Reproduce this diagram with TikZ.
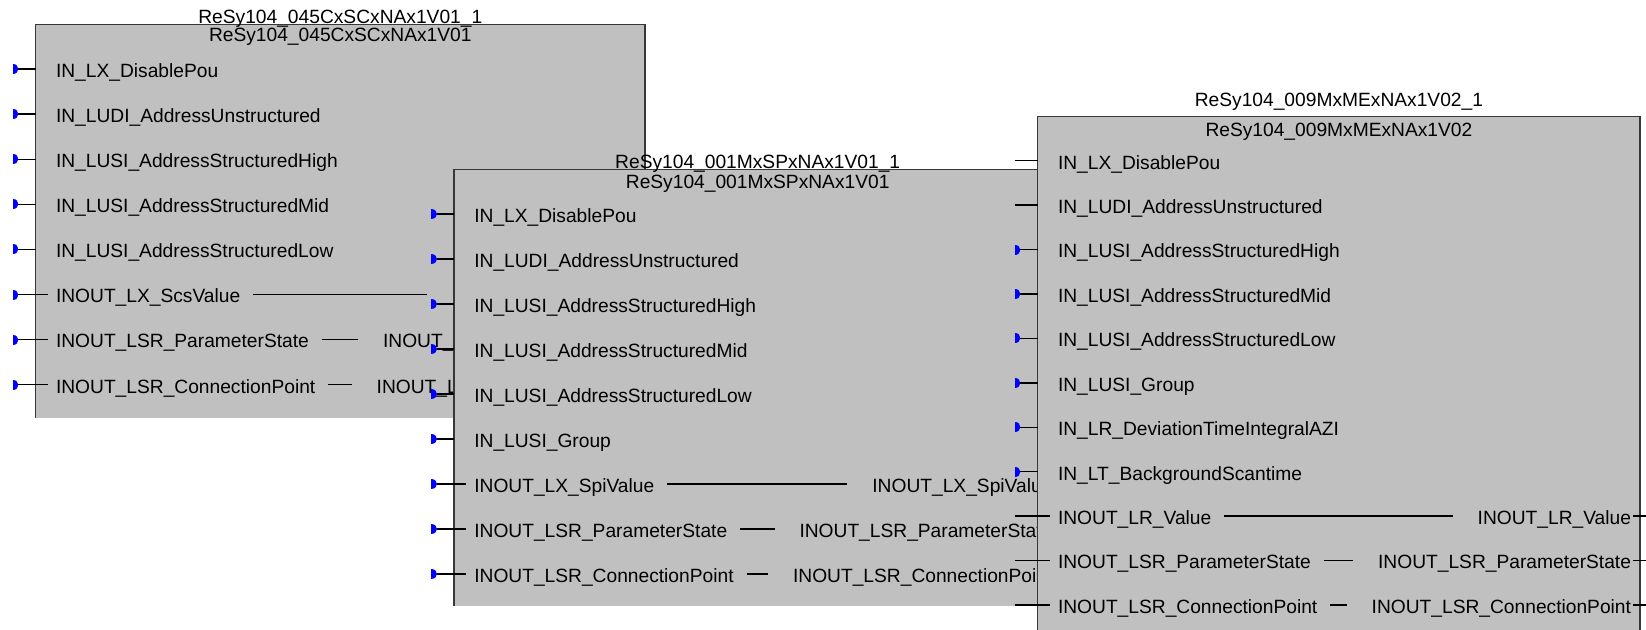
\documentclass[tikz,border=0pt]{standalone}
\usepackage{fontspec}
\setmainfont{Liberation Sans}
\definecolor{fbfill}{RGB}{192,192,192}
\definecolor{fbline}{RGB}{55,55,55}
\definecolor{pinblue}{RGB}{0,0,255}
\newcommand\fbfont{\fontsize{19.2pt}{23pt}\selectfont}

\tikzset{
  fbody/.style={fill=fbfill},
  fbframe/.style={draw=fbline, line width=1.3pt},
  wire/.style={draw=black, line width=1.3pt},
  portlbl/.style={inner sep=0pt, outer sep=0pt, text height=16.6pt, text depth=0pt, font=\fbfont},
  titlelbl/.style={inner sep=0pt, outer sep=0pt, font=\fbfont, anchor=base},
  pinmark/.style={fill=pinblue},
}

% input port: #1 block, #2 index, #3 left edge x, #4 row y, #5 marker (1/0), #6 reach into block, #7 name
\newcommand\fbPort[7]{%
  \ifnum#5=1
    \fill[pinmark] ({#3-23},{#4-5}) .. controls +(7.5,0) and +(7.5,0) .. ({#3-23},{#4+5}) -- cycle;
    \coordinate (#1-p#2) at ({#3-17.5},#4);
  \else
    \coordinate (#1-p#2) at ({#3-23},#4);
  \fi
  \coordinate (#1-e#2) at ({#3+#6},#4);
  \draw[wire] (#1-p#2) -- (#1-e#2);
  \node[portlbl, anchor=west] (#1-l#2) at ({#3+20.3},#4) {#7};
}
% in/out pair: #1 block, #2 index, #3 right edge x, #4 row y, #5 name
\newcommand\fbInOut[5]{%
  \node[portlbl, anchor=east] (#1-r#2) at ({#3-9},#4) {#5};
  \draw[wire] ([xshift=13pt]#1-l#2.east) -- ([xshift=-25pt]#1-r#2.west);
  \coordinate (#1-s#2) at ({#3-7},#4);
  \coordinate (#1-t#2) at ({#3+22},#4);
  \draw[wire] (#1-s#2) -- (#1-t#2);
}

\begin{document}
\begin{tikzpicture}[x=1pt,y=-1pt]
\useasboundingbox (0,0) rectangle (1646,629);
\clip (0,0) rectangle (1646,629);

% ---- block ReSy104_045CxSCxNAx1V01_1
\fill[fbody] (35.7,24.3) rectangle (645,418);
\draw[fbframe] (35.7,418) -- (35.7,24.3) -- (645,24.3) -- (645,418);
\node[titlelbl] (A-inst) at (340.3,23.3) {ReSy104\_045CxSCxNAx1V01\_1};
\node[titlelbl] (A-type) at (340.3,41.7) {ReSy104\_045CxSCxNAx1V01};
\fbPort{A}{0}{35.7}{69}{1}{0}{IN\_LX\_DisablePou}
\fbPort{A}{1}{35.7}{114.1}{1}{0}{IN\_LUDI\_AddressUnstructured}
\fbPort{A}{2}{35.7}{159.2}{1}{0}{IN\_LUSI\_AddressStructuredHigh}
\fbPort{A}{3}{35.7}{204.3}{1}{0}{IN\_LUSI\_AddressStructuredMid}
\fbPort{A}{4}{35.7}{249.4}{1}{0}{IN\_LUSI\_AddressStructuredLow}
\fbPort{A}{5}{35.7}{294.5}{1}{12}{INOUT\_LX\_ScsValue}
\fbPort{A}{6}{35.7}{339.6}{1}{12}{INOUT\_LSR\_ParameterState}
\fbPort{A}{7}{35.7}{384.7}{1}{12}{INOUT\_LSR\_ConnectionPoint}
\fbInOut{A}{5}{645}{294.5}{INOUT\_LX\_ScsValue}
\fbInOut{A}{6}{645}{339.6}{INOUT\_LSR\_ParameterState}
\fbInOut{A}{7}{645}{384.7}{INOUT\_LSR\_ConnectionPoint}

% ---- block ReSy104_001MxSPxNAx1V01_1
\fill[fbody] (454,169.3) rectangle (1061.4,606);
\draw[fbframe] (454,606) -- (454,169.3) -- (1061.4,169.3) -- (1061.4,606);
\node[titlelbl] (B-inst) at (757.7,168.3) {ReSy104\_001MxSPxNAx1V01\_1};
\node[titlelbl] (B-type) at (757.7,188.3) {ReSy104\_001MxSPxNAx1V01};
\fbPort{B}{0}{454}{214}{1}{0}{IN\_LX\_DisablePou}
\fbPort{B}{1}{454}{259}{1}{0}{IN\_LUDI\_AddressUnstructured}
\fbPort{B}{2}{454}{304}{1}{0}{IN\_LUSI\_AddressStructuredHigh}
\fbPort{B}{3}{454}{349}{1}{0}{IN\_LUSI\_AddressStructuredMid}
\fbPort{B}{4}{454}{394}{1}{0}{IN\_LUSI\_AddressStructuredLow}
\fbPort{B}{5}{454}{439}{1}{0}{IN\_LUSI\_Group}
\fbPort{B}{6}{454}{484}{1}{12}{INOUT\_LX\_SpiValue}
\fbPort{B}{7}{454}{529}{1}{12}{INOUT\_LSR\_ParameterState}
\fbPort{B}{8}{454}{574}{1}{12}{INOUT\_LSR\_ConnectionPoint}
\fbInOut{B}{6}{1061.4}{484}{INOUT\_LX\_SpiValue}
\fbInOut{B}{7}{1061.4}{529}{INOUT\_LSR\_ParameterState}
\fbInOut{B}{8}{1061.4}{574}{INOUT\_LSR\_ConnectionPoint}

% ---- block ReSy104_009MxMExNAx1V02_1
\fill[fbody] (1037.7,116.7) rectangle (1640,640);
\draw[fbframe] (1037.7,640) -- (1037.7,116.7) -- (1640,116.7) -- (1640,640);
\node[titlelbl] (C-inst) at (1338.9,106.7) {ReSy104\_009MxMExNAx1V02\_1};
\node[titlelbl] (C-type) at (1338.9,136.7) {ReSy104\_009MxMExNAx1V02};
\fbPort{C}{0}{1037.7}{160.7}{0}{0}{IN\_LX\_DisablePou}
\fbPort{C}{1}{1037.7}{205.1}{0}{0}{IN\_LUDI\_AddressUnstructured}
\fbPort{C}{2}{1037.7}{249.6}{1}{0}{IN\_LUSI\_AddressStructuredHigh}
\fbPort{C}{3}{1037.7}{294.0}{1}{0}{IN\_LUSI\_AddressStructuredMid}
\fbPort{C}{4}{1037.7}{338.4}{1}{0}{IN\_LUSI\_AddressStructuredLow}
\fbPort{C}{5}{1037.7}{382.9}{1}{0}{IN\_LUSI\_Group}
\fbPort{C}{6}{1037.7}{427.3}{1}{0}{IN\_LR\_DeviationTimeIntegralAZI}
\fbPort{C}{7}{1037.7}{471.7}{1}{0}{IN\_LT\_BackgroundScantime}
\fbPort{C}{8}{1037.7}{516.1}{0}{12}{INOUT\_LR\_Value}
\fbPort{C}{9}{1037.7}{560.6}{0}{12}{INOUT\_LSR\_ParameterState}
\fbPort{C}{10}{1037.7}{605.0}{0}{12}{INOUT\_LSR\_ConnectionPoint}
\fbInOut{C}{8}{1640}{516.1}{INOUT\_LR\_Value}
\fbInOut{C}{9}{1640}{560.6}{INOUT\_LSR\_ParameterState}
\fbInOut{C}{10}{1640}{605.0}{INOUT\_LSR\_ConnectionPoint}
\end{tikzpicture}
\end{document}
